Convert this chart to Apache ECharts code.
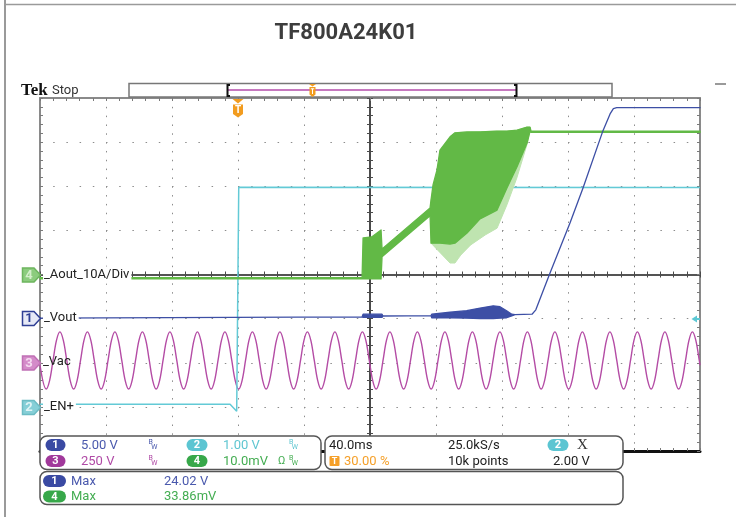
<!DOCTYPE html>
<html><head><meta charset="utf-8">
<script src="https://cdn.jsdelivr.net/npm/echarts@6/dist/echarts.min.js"></script>
<style>html,body{margin:0;padding:0;background:#fff}#c{width:736px;height:517px}</style>
</head><body><div id="c"></div>
<script>
// ---------------- data ----------------
const titleText = 'TF800A24K01';
const timeMinMs = -120, timeMaxMs = 280, timeDivMs = 40;   // 10 div x 40.0 ms, trigger at 30 %
const divMin = -4, divMax = 4;                               // 8 vertical divisions

// Ch1 Vout (V, 5 V/div) - envelope (upper / lower)
const voutT  = [-120, 75.2, 75.8, 87.3, 87.9, 117.0, 117.4, 128.5, 138.6, 146.7, 154.7, 158.8, 162.8, 165.9, 167.9, 178.2, 180.5, 189.1, 201.2, 209.1, 221.2, 225.5, 227.5, 229.5, 280];
const voutHi = [0.05, 0.2, 0.5, 0.5, 0.3, 0.35, 0.5, 0.72, 0.9, 1.2, 1.45, 1.35, 0.9, 0.5, 0.45, 0.5, 1.0, 5.17, 10.83, 14.8, 21.3, 23.2, 23.8, 23.9, 23.9];
const voutLo = [0.05, 0.2, 0.15, 0.15, 0.3, 0.35, 0.1, 0.1, 0.05, 0.0, 0.0, 0.05, 0.1, 0.3, 0.45, 0.5, 1.0, 5.17, 10.83, 14.8, 21.3, 23.2, 23.8, 23.9, 23.9];

// Ch2 EN+ (V, 1 V/div)
const enT = [-120, -4.8, -0.8, 0.3, 0.45, 280];
const enV = [0.06, 0.06, -0.1, -0.1, 4.98, 4.97];

// Ch3 Vac (V, 250 V/div) - 60 Hz mains, values at eighth periods starting at a trough
const vacFirstTroughMs = -116.27, vacStepMs = 2.0833;
const vacV = [
 -149,-101,13,127,175,127,13,-101, -149,-101,13,127,175,127,13,-101, -149,-101,13,127,175,127,13,-101,
 -149,-101,13,127,175,127,13,-101, -149,-101,13,127,175,127,13,-101, -149,-101,13,127,175,127,13,-101,
 -149,-101,13,127,175,127,13,-101, -149,-101,13,127,175,127,13,-101, -149,-101,13,127,175,127,13,-101,
 -149,-101,13,127,175,127,13,-101, -149,-101,13,127,175,127,13,-101, -149,-101,13,127,175,127,13,-101,
 -149,-101,13,127,175,127,13,-101, -149,-101,13,127,175,127,13,-101, -149,-101,13,127,175,127,13,-101,
 -149,-101,13,127,175,127,13,-101, -149,-101,13,127,175,127,13,-101, -149,-101,13,127,175,127,13,-101,
 -149,-101,13,127,175,127,13,-101, -149,-101,13,127,175,127,13,-101, -149,-101,13,127,175,127,13,-101,
 -149,-101,13,127,175,127,13,-101, -149,-101,13,127,175,127,13,-101, -149,-101,13,127,175,127,13];
const vacEdgeT = [-120, 280], vacEdgeV = [-14, -14];

// Ch4 Aout (mV, 10 mV/div = 10 A/div) - dense envelope
const aoutT  = [-120, 75.2, 75.8, 81, 86.7, 87.3, 116.4, 117.0, 118.2, 120.6, 122.4, 128.5, 131.5, 138.8, 146.7, 157, 163, 169.1, 175.2, 177, 177.6, 280];
const aoutHi = [-0.7, -0.7, 8.3, 8.5, 10.1, 5.8, 15.1, 16.9, 20.3, 23.7, 28.2, 31.2, 32.1, 32.3, 32.3, 32.5, 32.5, 32.7, 33.4, 33.4, 32.5, 32.5];
const aoutLo = [-1.0, -1.0, -1.0, -1.0, -1.0, 4.0, 13.3, 7.1, 7.1, 7.1, 7.1, 6.9, 7.1, 9.4, 12.6, 14.6, 19.6, 24.4, 29.8, 32.5, 32.2, 32.2];
// Ch4 lighter sparse spikes below the dense part
const aoutSpikeT  = [117.0, 128.5, 131.5, 135, 141, 150, 157, 163, 169, 175, 177];
const aoutSpikeHi = [16.9, 31.2, 32.1, 32.2, 32.3, 32.4, 32.5, 32.5, 32.7, 33.4, 33.4];
const aoutSpikeLo = [7.1, 2.6, 2.6, 4.4, 6.7, 9.0, 10.5, 15.8, 21.9, 29.3, 32.5];

// ---------------- chart ----------------
const chart = echarts.init(document.getElementById('c'));

function band(name, T, HI, LO, yIdx, color, z, lw) {
  return {
    type: 'custom', name, xAxisIndex: 0, yAxisIndex: yIdx, z, silent: true,
    data: [[T[0], HI[0]]],
    renderItem(params, api) {
      const pts = [];
      for (let i = 0; i < T.length; i++) pts.push(api.coord([T[i], HI[i]]));
      for (let i = T.length - 1; i >= 0; i--) pts.push(api.coord([T[i], LO[i]]));
      return { type: 'polygon', shape: { points: pts },
        style: { fill: color, stroke: color, lineWidth: lw, lineJoin: 'round' } };
    }
  };
}

const vacData = [[vacEdgeT[0], vacEdgeV[0]]];
vacV.forEach((v, i) => vacData.push([vacFirstTroughMs + i * vacStepMs, v]));
vacData.push([vacEdgeT[1], vacEdgeV[1]]);
const enData = enT.map((t, i) => [t, enV[i]]);

const tickCol = '#7a7a7a', dotCol = '#8c8c8c', centerCol = '#4a4a4a';
function borderX(pos, col, w, split) {
  return { type: 'value', min: timeMinMs, max: timeMaxMs, interval: timeDivMs, position: pos,
    axisLine: { show: true, onZero: false, lineStyle: { color: col, width: w } },
    axisTick: { show: true, inside: true, length: 3, lineStyle: { color: tickCol } },
    minorTick: { show: true, splitNumber: 5, length: 3, lineStyle: { color: tickCol } },
    axisLabel: { show: false },
    splitLine: { show: split, lineStyle: { color: dotCol, width: 1, type: [1.5, 7.325] } } };
}
function centerX(inside) {
  return { type: 'value', min: timeMinMs, max: timeMaxMs, interval: timeDivMs, position: 'bottom',
    axisLine: { show: true, onZero: true, onZeroAxisIndex: 0, lineStyle: { color: centerCol, width: 1.6 } },
    axisTick: { show: true, inside, length: 3, lineStyle: { color: centerCol } },
    minorTick: { show: true, splitNumber: 5, length: 3, lineStyle: { color: centerCol } },
    axisLabel: { show: false }, splitLine: { show: false } };
}
function borderY(pos, col, w, split, offset, inside) {
  const tc = col === centerCol ? centerCol : tickCol;
  return { type: 'value', min: divMin, max: divMax, interval: 1, position: pos, offset,
    axisLine: { show: true, onZero: false, lineStyle: { color: col, width: w } },
    axisTick: { show: true, inside, length: 3, lineStyle: { color: tc } },
    minorTick: { show: true, splitNumber: 5, length: 3, lineStyle: { color: tc } },
    axisLabel: { show: false },
    splitLine: { show: split, lineStyle: { color: dotCol, width: 1, type: [1.5, 11.7] } } };
}
function chY(min, max) {
  return { type: 'value', min, max, show: false, axisLine: { onZero: false }, splitLine: { show: false } };
}

// ---------------- overlay graphics ----------------
const G = [];
function txt(x, y, text, font, fill, align, extra) {
  G.push({ type: 'text', x, y, z: 50, silent: true,
    style: Object.assign({ text, font, fill, textAlign: align || 'left', align: align || 'left',
      textVerticalAlign: 'middle', verticalAlign: 'middle' }, extra || {}) });
}
function shape(type, shp, style, z) { G.push({ type, shape: shp, style, z: z || 25, silent: true }); }
function pill(cx, cy, w, num, color) {
  shape('rect', { x: cx - w / 2, y: cy - 6, width: w, height: 12, r: 6 }, { fill: color }, 31);
  txt(cx, cy + 0.5, num, 'bold 11px Roboto', '#fff', 'center');
}
function bw(x, y, col) {
  txt(x, y - 2.5, 'B', '7px Roboto', col);
  txt(x + 2.8, y + 2, 'W', '7px Roboto', col);
}
function marker(y, num, fill, stroke, tcol) {
  shape('polygon', { points: [[22.5, y - 7], [34, y - 7], [40.5, y], [34, y + 7], [22.5, y + 7]] },
    { fill, stroke, lineWidth: 1.5 }, 31);
  txt(29, y + 0.5, num, 'bold 13px Roboto', tcol, 'center');
}

// frame
shape('line', { x1: 5, y1: 0, x2: 5, y2: 517 }, { stroke: '#9a9a9a', lineWidth: 2 });
shape('line', { x1: 5, y1: 4.5, x2: 736, y2: 4.5 }, { stroke: '#9a9a9a', lineWidth: 1.5 });
shape('line', { x1: 715, y1: 84, x2: 726, y2: 84 }, { stroke: '#9a9a9a', lineWidth: 2 });
// title
txt(346, 33.5, titleText, 'bold 22px Roboto', '#3d3d3d', 'center');
// Tek Stop
txt(21, 91, 'Tek', 'bold 17px "Liberation Serif"', '#111');
txt(52, 90.5, 'Stop', '13px Roboto', '#333');
// record bar
shape('rect', { x: 129, y: 83.5, width: 483, height: 13.5 }, { fill: '#fff', stroke: '#777', lineWidth: 1.5 });
shape('line', { x1: 228, y1: 90, x2: 516, y2: 90 }, { stroke: '#c678bf', lineWidth: 2 }, 26);
shape('polyline', { points: [[230, 85], [227.5, 85], [227.5, 96], [230, 96]] }, { stroke: '#111', fill: null, lineWidth: 2 }, 27);
shape('polyline', { points: [[514, 85], [516.5, 85], [516.5, 96], [514, 96]] }, { stroke: '#111', fill: null, lineWidth: 2 }, 27);
shape('polygon', { points: [[309, 84], [316, 84], [312.5, 86.5]] }, { fill: '#f29c1f' }, 27);
shape('polygon', { points: [[309.5, 87], [315.5, 87], [315.5, 94.5], [312.5, 97], [309.5, 94.5]] }, { fill: '#f29c1f' }, 27);
shape('line', { x1: 310.8, y1: 88.8, x2: 314.2, y2: 88.8 }, { stroke: '#fff', lineWidth: 1 }, 28);
shape('line', { x1: 312.5, y1: 88.8, x2: 312.5, y2: 94 }, { stroke: '#fff', lineWidth: 1 }, 28);
// trigger position marker
shape('polygon', { points: [[232.5, 99], [243.5, 99], [238, 103.5]] }, { fill: '#f29c1f' }, 31);
shape('polygon', { points: [[233, 104.5], [243, 104.5], [243, 114], [238, 117.5], [233, 114]] }, { fill: '#f29c1f' }, 31);
txt(238, 110.5, 'T', 'bold 10px Roboto', '#fff', 'center');
// trigger level arrow (ch2) at right
shape('polygon', { points: [[691.5, 319], [697, 315.5], [697, 322.5]] }, { fill: '#5cc8d4' }, 31);
shape('rect', { x: 696.5, y: 318, width: 3.5, height: 2 }, { fill: '#5cc8d4' }, 31);
// channel markers + labels
marker(275, '4', '#8ccc7e', '#6db55e', '#d5efcc');
marker(318.5, '1', '#e6e9f6', '#2f3f95', '#2f3f95');
marker(363, '3', '#d48bc9', '#c070b5', '#f5dcf1');
marker(407.5, '2', '#86cfd7', '#6cbcc4', '#e0f4f6');
const lblBg = { backgroundColor: '#fff', padding: [2, 2, 2, 1] };
txt(43, 275, '_Aout_10A/Div', '13px Roboto', '#222', 'left', lblBg);
txt(43, 318, '_Vout', '13px Roboto', '#222', 'left', lblBg);
txt(43, 362, '_Vac', '13px Roboto', '#222');
txt(43, 406.5, '_EN+', '13px Roboto', '#222', 'left', lblBg);

// info boxes
const boxSt = { fill: '#fff', stroke: '#555', lineWidth: 1.5 };
shape('rect', { x: 40, y: 436, width: 281, height: 33.5, r: 7 }, boxSt, 29);
shape('rect', { x: 325, y: 436, width: 298, height: 33.5, r: 7 }, boxSt, 29);
shape('rect', { x: 40, y: 471.5, width: 583, height: 33, r: 7 }, boxSt, 29);
const cBlue = '#4a59ad', cCyan = '#5fc6d1', cMag = '#b04aa6', cGreen = '#44ad52', cOrange = '#f5a02a';
pill(55.5, 445, 20, '1', '#3a4aa3'); txt(81, 445.5, '5.00 V', '13px Roboto', cBlue); bw(148.5, 445, cBlue);
pill(197, 445, 21, '2', '#5cc5d2'); txt(223, 445.5, '1.00 V', '13px Roboto', cCyan); bw(289, 445, cCyan);
pill(55.5, 461, 20, '3', '#a1399b'); txt(81, 461.5, '250 V', '13px Roboto', cMag); bw(148.5, 461, cMag);
pill(197, 461, 21, '4', '#37a84a'); txt(223, 461.5, '10.0mV', '13px Roboto', cGreen);
txt(278, 461.5, 'Ω', '11px Roboto', cGreen); bw(289, 461, cGreen);

txt(329, 445.5, '40.0ms', '13px Roboto', '#222');
txt(448, 445.5, '25.0kS/s', '13px Roboto', '#222');
pill(558, 445, 21, '2', '#5cc5d2');
txt(582.5, 445.5, 'X', '15px "Liberation Serif"', '#333', 'center');
shape('rect', { x: 329.5, y: 456, width: 10, height: 10, r: 1 }, { fill: cOrange }, 31);
txt(334.5, 461.5, 'T', 'bold 9px Roboto', '#fff', 'center');
txt(344, 461.5, '30.00 %', '13px Roboto', cOrange);
txt(448, 461.5, '10k points', '13px Roboto', '#222');
txt(553, 461.5, '2.00 V', '13px Roboto', '#222');

pill(54.5, 481, 23, '1', '#3a4aa3'); txt(71, 481.5, 'Max', '13px Roboto', cBlue); txt(164, 481.5, '24.02 V', '13px Roboto', cBlue);
pill(54.5, 496.5, 23, '4', '#37a84a'); txt(71, 497, 'Max', '13px Roboto', cGreen); txt(164, 497, '33.86mV', '13px Roboto', cGreen);

const option = {
  animation: false,
  backgroundColor: '#fff',
  grid: { left: 40, top: 98, width: 660, height: 353, show: false },
  xAxis: [
    borderX('bottom', '#111', 3, true),
    borderX('top', '#8a8a8a', 2, false),
    centerX(true),
    centerX(false)
  ],
  yAxis: [
    borderY('left', '#8a8a8a', 2, true, 0, true),
    borderY('right', '#8a8a8a', 2, false, 0, true),
    borderY('left', centerCol, 2, false, -330, true),
    borderY('left', centerCol, 2, false, -330, false),
    chY(-15, 25),     // ch1 Vout  5 V/div, ground at -1 div
    chY(-1, 7),       // ch2 EN+   1 V/div, ground at -3 div
    chY(-500, 1500),  // ch3 Vac   250 V/div, ground at -2 div
    chY(-40, 40)      // ch4 Aout  10 mV/div, ground at 0 div
  ],
  series: [
    { type: 'line', name: 'Vac', xAxisIndex: 0, yAxisIndex: 6, data: vacData, smooth: 0.35,
      showSymbol: false, silent: true, z: 2, lineStyle: { color: '#b44ca5', width: 1.4 } },
    { type: 'line', name: 'EN+', xAxisIndex: 0, yAxisIndex: 5, data: enData,
      showSymbol: false, silent: true, z: 3, lineStyle: { color: '#63cad6', width: 1.5 } },
    band('Aout spikes', aoutSpikeT, aoutSpikeHi, aoutSpikeLo, 7, '#bfe4b0', 4, 1),
    band('Aout', aoutT, aoutHi, aoutLo, 7, '#62b946', 5, 1.3),
    band('Vout', voutT, voutHi, voutLo, 4, '#3d4fa5', 6, 1.3)
  ],
  graphic: { elements: G }
};
chart.setOption(option);
</script></body></html>
